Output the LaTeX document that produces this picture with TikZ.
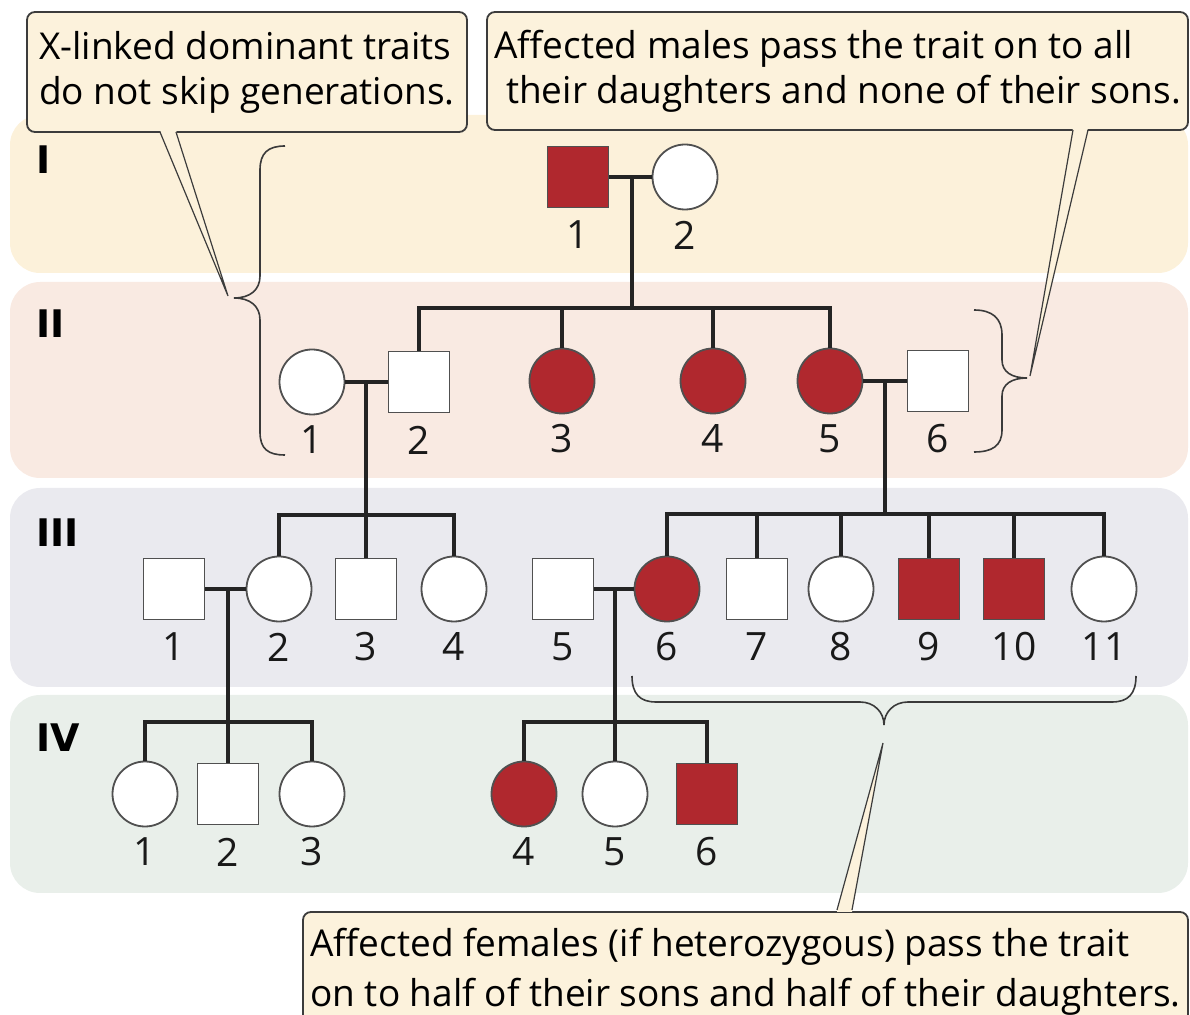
\documentclass[tikz,border=0pt]{standalone}
\usepackage{fontspec}
\setmainfont{Open Sans}
\newfontfamily\genfont{DejaVu Sans}
\usetikzlibrary{calc}

\definecolor{bandI}{HTML}{FCF1DA}
\definecolor{bandII}{HTML}{F9EAE2}
\definecolor{bandIII}{HTML}{EAEAEF}
\definecolor{bandIV}{HTML}{E9EFEA}
\definecolor{callfill}{HTML}{FCF2DC}
\definecolor{calledge}{HTML}{3C3C3C}
\definecolor{affred}{HTML}{B0282E}
\definecolor{symedge}{HTML}{505050}
\definecolor{pedline}{HTML}{242424}
\definecolor{braceedge}{HTML}{3A3A3A}

\begin{document}
\begin{tikzpicture}[x=0.5pt,y=-0.5pt,
  ped/.style={draw=pedline, line width=1.75pt},
  male/.style={rectangle, draw=symedge, line width=0.9pt, fill=white, minimum size=30.5pt, inner sep=0pt},
  female/.style={circle, draw=symedge, line width=0.9pt, fill=white, minimum size=32.5pt, inner sep=0pt},
  aff/.style={fill=affred},
  num/.style={font=\fontsize{19.5}{19.5}\selectfont, inner sep=0pt, text=black!90},
  gen/.style={font=\genfont\bfseries\fontsize{19}{19}\selectfont, anchor=west, inner sep=0pt},
  callout/.style={draw=calledge, fill=callfill, line width=0.9pt, rounded corners=4pt,
    align=left, inner sep=0pt, font=\fontsize{18.5}{22.5}\selectfont},
  pointer/.style={draw=calledge, line width=0.6pt},
  brace/.style={draw=braceedge, line width=0.8pt},
]
\useasboundingbox (0,0) rectangle (1190,1015);

% generation bands
\fill[bandI, rounded corners=15pt]   (10,115) rectangle (1188,273);
\fill[bandII, rounded corners=15pt]  (10,282) rectangle (1188,478);
\fill[bandIII, rounded corners=15pt] (10,488) rectangle (1188,687);
\fill[bandIV, rounded corners=15pt]  (10,695) rectangle (1188,893);

% generation numerals
\node[gen] (gI)   at (36,160) {I};
\node[gen] (gII)  at (36,324) {II};
\node[gen] (gIII) at (36,533) {III};
\node[gen] (gIV)  at (36,738) {IV};

% ---- generation I
\node[male,aff] (I1) at (578,177) {};
\node[female]   (I2) at (685,177) {};
\draw[ped] (I1) -- (I2);
\coordinate (d1) at (632,177);
\coordinate (s1) at (632,308);
\draw[ped] (d1) -- (s1);

% ---- generation II
\node[female]     (II1) at (312,382) {};
\node[male]       (II2) at (419,382) {};
\node[female,aff] (II3) at (562,381) {};
\node[female,aff] (II4) at (713,381) {};
\node[female,aff] (II5) at (830,381) {};
\node[male]       (II6) at (938,381) {};
\draw[ped] (II2.north) -- (II2.north |- s1) -- (II5.north |- s1) -- (II5.north);
\draw[ped] (II3.north |- s1) -- (II3.north);
\draw[ped] (II4.north |- s1) -- (II4.north);
\draw[ped] (II1) -- (II2);
\draw[ped] (II5) -- (II6);

% ---- generation III
\node[male]       (III1)  at (174,589) {};
\node[female]     (III2)  at (279,589) {};
\node[male]       (III3)  at (366,589) {};
\node[female]     (III4)  at (454,589) {};
\node[male]       (III5)  at (563,589) {};
\node[female,aff] (III6)  at (667,589) {};
\node[male]       (III7)  at (757,589) {};
\node[female]     (III8)  at (841,589) {};
\node[male,aff]   (III9)  at (929,589) {};
\node[male,aff]   (III10) at (1014,589) {};
\node[female]     (III11) at (1104,589) {};

% children of II-1 x II-2
\coordinate (d2) at (II2 -| III3);
\coordinate (s2) at (366,515);
\draw[ped] (d2) -- (III3.north);
\draw[ped] (III2.north) -- (III2.north |- s2) -- (III4.north |- s2) -- (III4.north);

% children of II-5 x II-6
\coordinate (d3) at (885,381);
\coordinate (s3) at (885,514);
\draw[ped] (d3) -- (s3);
\draw[ped] (III6.north) -- (III6.north |- s3) -- (III11.north |- s3) -- (III11.north);
\foreach \c in {III7,III8,III9,III10}
  \draw[ped] (\c.north |- s3) -- (\c.north);

\draw[ped] (III1) -- (III2);
\draw[ped] (III5) -- (III6);

% ---- generation IV
\node[female]     (IV1) at (145,794) {};
\node[male]       (IV2) at (228,794) {};
\node[female]     (IV3) at (312,794) {};
\node[female,aff] (IV4) at (524,794) {};
\node[female]     (IV5) at (615,794) {};
\node[male,aff]   (IV6) at (707,794) {};

\coordinate (d4) at (III1 -| IV2);
\coordinate (s4) at (228,722);
\draw[ped] (d4) -- (IV2.north);
\draw[ped] (IV1.north) -- (IV1.north |- s4) -- (IV3.north |- s4) -- (IV3.north);

\coordinate (d5) at (III5 -| IV5);
\coordinate (s5) at (615,722);
\draw[ped] (d5) -- (IV5.north);
\draw[ped] (IV4.north) -- (IV4.north |- s5) -- (IV6.north |- s5) -- (IV6.north);

% individual numbers
\foreach \n/\t in {I1/1,I2/2,
  II1/1,II2/2,II3/3,II4/4,II5/5,II6/6,
  III1/1,III2/2,III3/3,III4/4,III5/5,III6/6,III7/7,III8/8,III9/9,III10/10,III11/11,
  IV1/1,IV2/2,IV3/3,IV4/4,IV5/5,IV6/6}
  \node[num] (n\n) at ([yshift=-29pt]\n.center) {\t};

% ---- braces
\coordinate (bL) at (234,298);
\draw[brace] (285,146) .. controls (268,146) and (260,153) .. (260,170) -- (260,276)
  .. controls (260,290) and (250,298) .. (bL)
  .. controls (250,298) and (260,306) .. (260,320) -- (260,432)
  .. controls (260,449) and (268,455) .. (285,455);

\coordinate (bR) at (1027,378);
\draw[brace] (974,310) .. controls (992,310) and (1002,318) .. (1002,335) -- (1002,360)
  .. controls (1002,372) and (1012,378) .. (bR)
  .. controls (1012,378) and (1002,384) .. (1002,396) -- (1002,430)
  .. controls (1002,446) and (992,452) .. (974,452);

\coordinate (bB) at (884,725);
\draw[brace] (632,676) .. controls (632,694) and (640,702) .. (656,702) -- (860,702)
  .. controls (874,702) and (884,712) .. (bB)
  .. controls (884,712) and (894,702) .. (908,702) -- (1112,702)
  .. controls (1128,702) and (1136,694) .. (1136,676);

% ---- callouts
\node[callout, minimum width=220pt, minimum height=60pt] (c1) at (247,72)
  {X-linked dominant traits\\do not skip generations.};
\node[callout, minimum width=350.5pt, minimum height=59pt] (c2) at (837.5,71)
  {Affected males pass the trait on to all\\\hspace*{6pt}their daughters and none of their sons.};
\node[callout, minimum width=442.5pt, minimum height=60pt,
  font=\fontsize{18.5}{25}\selectfont] (c3) at (745.5,972)
  {Affected females (if heterozygous) pass the trait\\on to half of their sons and half of their daughters.};

% callout pointers
\coordinate (p1) at (228,296);
\coordinate (p1a) at (160,132);
\coordinate (p1b) at (176,132);
\fill[callfill] ([yshift=1pt]p1a) -- (p1) -- ([yshift=1pt]p1b) -- cycle;
\draw[pointer] (p1a) -- (p1) -- (p1b);

\coordinate (p2) at (1030,376);
\coordinate (p2a) at (1073,130);
\coordinate (p2b) at (1088,130);
\fill[callfill] ([yshift=1pt]p2a) -- (p2) -- ([yshift=1pt]p2b) -- cycle;
\draw[pointer] (p2a) -- (p2) -- (p2b);

\coordinate (p3) at (883,743);
\coordinate (p3a) at (837,910);
\coordinate (p3b) at (852,910);
\fill[callfill] ([yshift=-1pt]p3a) -- (p3) -- ([yshift=-1pt]p3b) -- cycle;
\draw[pointer] (p3a) -- (p3) -- (p3b);

\end{tikzpicture}
\end{document}
